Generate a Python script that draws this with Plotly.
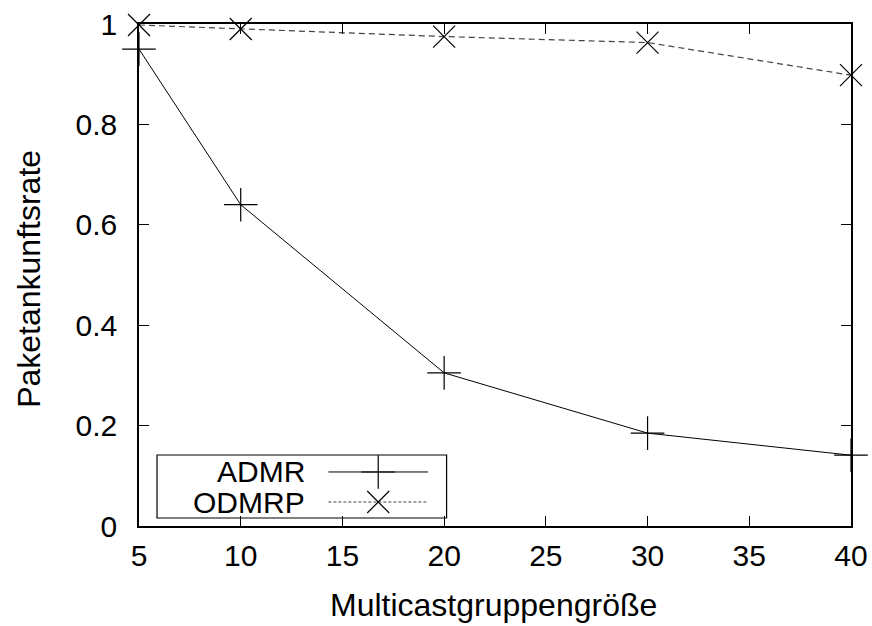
import plotly.graph_objects as go

group_sizes = [5, 10, 20, 30, 40]
admr = [0.95, 0.64, 0.305, 0.185, 0.141]
odmrp = [0.998, 0.99, 0.975, 0.963, 0.898]
series_names = ["ADMR", "ODMRP"]
x_ticks = [5, 10, 15, 20, 25, 30, 35, 40]
y_ticks = [0, 0.2, 0.4, 0.6, 0.8, 1]
y_ticklabels = ["0", "0.2", "0.4", "0.6", "0.8", "1"]
x_title = "Multicastgruppengröße"
y_title = "Paketankunftsrate"

FONT = "Liberation Sans, Arial, sans-serif"
FS = 30
FS_T = 32

fig = go.Figure()
fig.add_trace(go.Scatter(x=group_sizes, y=admr, mode="lines+markers", name=series_names[0],
                         line=dict(color="black", width=1),
                         marker=dict(symbol="cross-thin", size=24, line=dict(color="black", width=1.2)),
                         showlegend=False, cliponaxis=False))
fig.add_trace(go.Scatter(x=group_sizes, y=odmrp, mode="lines+markers", name=series_names[1],
                         line=dict(color="#444444", width=1.2, dash="6px,4px"),
                         marker=dict(symbol="x-thin", size=22, line=dict(color="black", width=1.2)),
                         showlegend=False, cliponaxis=False))

# legend samples on an overlay axis (paper-like 0..1 coordinates)
fig.add_trace(go.Scatter(x=[0.266, 0.406], y=[0.1076, 0.1076], xaxis="x2", yaxis="y2", mode="lines",
                         line=dict(color="black", width=1), showlegend=False, hoverinfo="skip"))
fig.add_trace(go.Scatter(x=[0.336], y=[0.1076], xaxis="x2", yaxis="y2", mode="markers",
                         marker=dict(symbol="cross-thin", size=24, line=dict(color="black", width=1.2)),
                         showlegend=False, hoverinfo="skip"))
fig.add_trace(go.Scatter(x=[0.266, 0.406], y=[0.0478, 0.0478], xaxis="x2", yaxis="y2", mode="lines",
                         line=dict(color="#444444", width=1, dash="3px,2px"), showlegend=False, hoverinfo="skip"))
fig.add_trace(go.Scatter(x=[0.336], y=[0.0478], xaxis="x2", yaxis="y2", mode="markers",
                         marker=dict(symbol="x-thin", size=22, line=dict(color="black", width=1.2)),
                         showlegend=False, hoverinfo="skip"))

fig.add_shape(type="rect", xref="paper", yref="paper", x0=0.0253, x1=0.432, y0=0.0159, y1=0.1414,
              line=dict(color="black", width=1.2), fillcolor="white", layer="below")
fig.add_annotation(text=series_names[0], xref="paper", yref="paper", x=0.236, y=0.1076,
                   xanchor="right", yanchor="middle", showarrow=False,
                   font=dict(family=FONT, size=FS, color="black"))
fig.add_annotation(text=series_names[1], xref="paper", yref="paper", x=0.236, y=0.0478,
                   xanchor="right", yanchor="middle", showarrow=False,
                   font=dict(family=FONT, size=FS, color="black"))

# axis titles
fig.add_annotation(text=x_title, xref="paper", yref="paper", x=0.498, y=-0.157,
                   xanchor="center", yanchor="middle", showarrow=False,
                   font=dict(family=FONT, size=FS_T, color="black"))
fig.add_annotation(text=y_title, xref="paper", yref="paper", x=-0.1547, y=0.492, textangle=-90,
                   xanchor="center", yanchor="middle", showarrow=False,
                   font=dict(family=FONT, size=FS_T, color="black"))

fig.update_layout(
    width=872, height=626,
    margin=dict(l=139, r=21, t=24, b=100),
    paper_bgcolor="white", plot_bgcolor="white",
    font=dict(family=FONT, size=FS, color="black"),
    xaxis=dict(range=[5, 40], tickvals=x_ticks, ticks="inside", ticklen=10, tickwidth=1,
               tickcolor="black", showline=True, linecolor="black", linewidth=1.5, mirror="ticks",
               showgrid=False, zeroline=False, tickfont=dict(size=FS), automargin=False,
               ticklabelstandoff=2),
    yaxis=dict(range=[0, 1], tickvals=y_ticks, ticktext=y_ticklabels, ticks="inside", ticklen=10,
               tickwidth=1, tickcolor="black", showline=True, linecolor="black", linewidth=1.5,
               mirror="ticks", showgrid=False, zeroline=False, tickfont=dict(size=FS), automargin=False,
               ticklabelstandoff=14),
    xaxis2=dict(range=[0, 1], overlaying="x", visible=False, fixedrange=True),
    yaxis2=dict(range=[0, 1], overlaying="y", visible=False, fixedrange=True),
)

fig.write_html("out.html")
